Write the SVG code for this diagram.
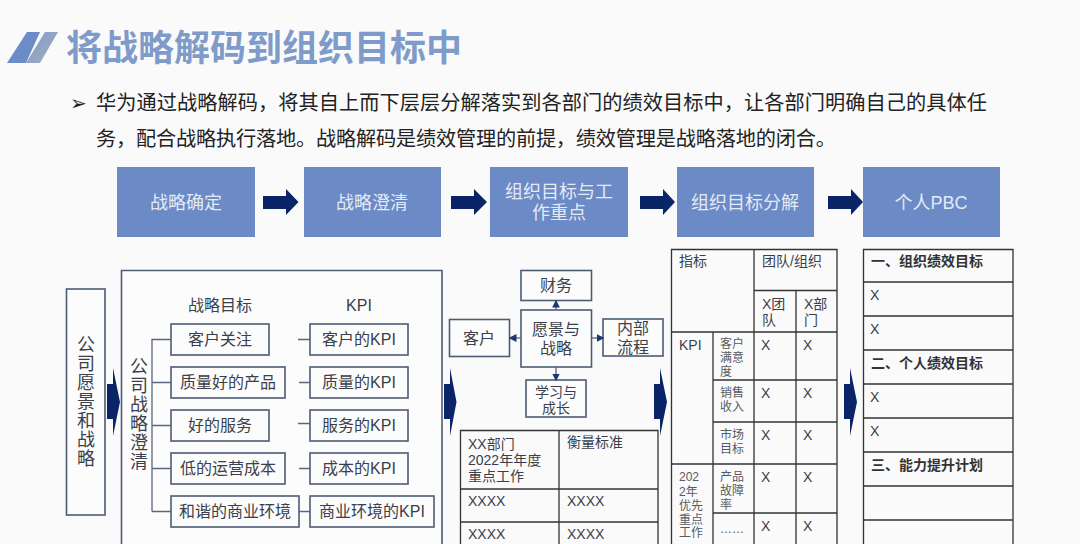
<svg xmlns="http://www.w3.org/2000/svg" width="1080" height="544" viewBox="0 0 1080 544">
<style>
text{font-family:"Liberation Sans","Noto Sans CJK SC",sans-serif;fill:#3a3f4a}
.m{text-anchor:middle}
.step rect{fill:#6b8ac6}
.step text{fill:#e4eaf5;font-size:18px;text-anchor:middle}
.b{fill:#fcfcfc;stroke:#4d5b75;stroke-width:1.6}
.t15{font-size:18px;text-anchor:middle}
.t14{font-size:16px;text-anchor:middle}
.c{font-size:14px}
.s{font-size:12px;fill:#555a64}
.g{stroke:#333;stroke-width:1.3;fill:none}
.h{font-size:14px;font-weight:bold;fill:#333}
.ln{stroke:#59667f;stroke-width:1.3;fill:none}
.ar{fill:#0a2468}
</style>
<defs>
<linearGradient id="sl" x1="0" y1="0" x2="1" y2="1"><stop offset="0" stop-color="#7f9ccf"/><stop offset="1" stop-color="#a5adb8"/></linearGradient>
<marker id="mk" viewBox="0 0 6 6" refX="5" refY="3" markerWidth="6" markerHeight="6" orient="auto"><path d="M0 0L6 3L0 6Z" fill="#1b3673"/></marker>
</defs>
<rect width="1080" height="544" fill="#fafafa"/>
<g id="title">
<polygon points="7,63 27,32 40,32 26,63" fill="#6c8cc8"/>
<polygon points="26,63 45,32 58,32 40,63" fill="url(#sl)"/>
<text x="66" y="61" font-size="36" font-weight="bold" style="fill:#7f9bc9">将战略解码到组织目标中</text>
</g>
<g id="intro">
<text x="70" y="110" font-size="20" style="font-family:'DejaVu Sans',sans-serif;fill:#222">➢</text>
<text x="96" y="110" font-size="20.2" textLength="891" style="fill:#222">华为通过战略解码，将其自上而下层层分解落实到各部门的绩效目标中，让各部门明确自己的具体任</text>
<text x="96" y="146" font-size="20.2" textLength="740" style="fill:#222">务，配合战略执行落地。战略解码是绩效管理的前提，绩效管理是战略落地的闭合。</text>
</g>
<g id="step1" class="step"><rect x="117" y="167" width="138" height="70"/><text x="186" y="209">战略确定</text></g>
<g id="step2" class="step"><rect x="304" y="167" width="137" height="70"/><text x="372" y="209">战略澄清</text></g>
<g id="step3" class="step"><rect x="490" y="167" width="138" height="70"/><text x="559" y="198">组织目标与工</text><text x="559" y="219">作重点</text></g>
<g id="step4" class="step"><rect x="677" y="167" width="137" height="70"/><text x="745" y="209">组织目标分解</text></g>
<g id="step5" class="step"><rect x="863" y="167" width="137" height="70"/><text x="931" y="209">个人PBC</text></g>
<g id="vision"><rect class="b" x="66.500" y="289" width="38.500" height="226"/>
<text class="t15" x="86" y="351">公</text><text class="t15" x="86" y="370">司</text><text class="t15" x="86" y="389">愿</text><text class="t15" x="86" y="408">景</text><text class="t15" x="86" y="427">和</text><text class="t15" x="86" y="446">战</text><text class="t15" x="86" y="465">略</text></g>
<g id="panel"><path class="b" d="M121.500 546V270.500H442V546"/>
<text class="t14" x="220" y="311">战略目标</text><text class="t14" x="359" y="311">KPI</text>
<text class="t15" x="139" y="373">公</text><text class="t15" x="139" y="392">司</text><text class="t15" x="139" y="411">战</text><text class="t15" x="139" y="430">略</text><text class="t15" x="139" y="449">澄</text><text class="t15" x="139" y="468">清</text></g>
<g id="g1"><rect class="b" x="171" y="324" width="98" height="31"/><text class="t14" x="220" y="345">客户关注</text></g>
<g id="g2"><rect class="b" x="171" y="367" width="114" height="31"/><text class="t14" x="228" y="388">质量好的产品</text></g>
<g id="g3"><rect class="b" x="171" y="410" width="98" height="31"/><text class="t14" x="220" y="431">好的服务</text></g>
<g id="g4"><rect class="b" x="171" y="453" width="114" height="31"/><text class="t14" x="228" y="474">低的运营成本</text></g>
<g id="g5"><rect class="b" x="171" y="496" width="128" height="31"/><text class="t14" x="235" y="517">和谐的商业环境</text></g>
<g id="k1"><rect class="b" x="310" y="324" width="98" height="31"/><text class="t14" x="359" y="345">客户的KPI</text></g>
<g id="k2"><rect class="b" x="310" y="367" width="98" height="31"/><text class="t14" x="359" y="388">质量的KPI</text></g>
<g id="k3"><rect class="b" x="310" y="410" width="98" height="31"/><text class="t14" x="359" y="431">服务的KPI</text></g>
<g id="k4"><rect class="b" x="310" y="453" width="98" height="31"/><text class="t14" x="359" y="474">成本的KPI</text></g>
<g id="k5"><rect class="b" x="310" y="496" width="124" height="31"/><text class="t14" x="372" y="517">商业环境的KPI</text></g>
<g id="bsc-finance"><rect class="b" x="521" y="270.500" width="70.500" height="30"/><text class="t14" x="556" y="291">财务</text></g>
<g id="bsc-core"><rect class="b" x="521" y="310" width="70.500" height="57"/><text class="t14" x="556" y="335">愿景与</text><text class="t14" x="556" y="354">战略</text></g>
<g id="bsc-customer"><rect class="b" x="449.500" y="319.500" width="60" height="37"/><text class="t14" x="479" y="344">客户</text></g>
<g id="bsc-process"><rect class="b" x="603" y="319" width="60" height="37"/><text class="t14" x="633" y="334">内部</text><text class="t14" x="633" y="353">流程</text></g>
<g id="bsc-learning"><rect class="b" x="526" y="380" width="60" height="37"/><text class="m" font-size="14" x="556" y="397">学习与</text><text class="m" font-size="14" x="556" y="413">成长</text></g>
<g id="connectors">
<path class="ln" d="M152 511.500V339.500H171M152 382.500H171M152 425.500H171M152 468.500H171M152 511.500H171"/>
<path class="ln" d="M298 339.500H310M299 382.500H310M298 423.500H310M299 468.500H310M299 511.500H310"/>
<path class="ln" marker-end="url(#mk)" d="M556 310V301"/>
<path class="ln" marker-end="url(#mk)" d="M521 338H510"/>
<path class="ln" marker-end="url(#mk)" d="M592 338H603"/>
<path class="ln" marker-end="url(#mk)" d="M556 367V380"/>
<polygon class="ar" points="263,196 286,196 286,189 298.500,202 286,215 286,209 263,209"/>
<polygon class="ar" points="451,196 474,196 474,189 487,202 474,215 474,209 451,209"/>
<polygon class="ar" points="640,196 663,196 663,189 675,202 663,215 663,209 640,209"/>
<polygon class="ar" points="828,196 851,196 851,189 863,202 851,215 851,209 828,209"/>
<polygon class="ar" points="107,384 113,384 113,368 120,402 113,436 113,419 107,419"/>
<polygon class="ar" points="444,384 450,384 450,368 456.500,402 450,436 450,419 444,419"/>
<polygon class="ar" points="654,384 660,384 660,368 667,402 660,436 660,419 654,419"/>
<polygon class="ar" points="844,384 850,384 850,368 857,402 850,436 850,419 844,419"/>
</g>
<g id="table-dept">
<path class="g" d="M460.500 546V430.500H658V546M559 430.500V546M460.500 489H658M460.500 522H658"/>
<text class="c" x="468" y="449">XX部门</text><text class="c" x="468" y="465">2022年年度</text><text class="c" x="468" y="481">重点工作</text>
<text class="c" x="567" y="447">衡量标准</text>
<text class="c" x="468" y="506">XXXX</text><text class="c" x="567" y="506">XXXX</text>
<text class="c" x="468" y="539">XXXX</text><text class="c" x="567" y="539">XXXX</text>
</g>
<g id="table-kpi">
<path class="g" d="M671.500 546V249.500H837V546M754 249.500V546M796 290.500V546M713 332V546M754 290.500H837M671.500 332H837M713 380H837M713 422H837M671.500 464H837M713 513H837"/>
<text class="c" x="679" y="266">指标</text><text class="c" x="762" y="266">团队/组织</text>
<text class="c" x="762" y="309">X团</text><text class="c" x="762" y="325">队</text><text class="c" x="804" y="309">X部</text><text class="c" x="804" y="325">门</text>
<text class="c" x="679" y="350">KPI</text>
<text class="s" x="720" y="348">客户</text><text class="s" x="720" y="362">满意</text><text class="s" x="720" y="376">度</text>
<text class="s" x="720" y="397">销售</text><text class="s" x="720" y="411">收入</text>
<text class="s" x="720" y="439">市场</text><text class="s" x="720" y="453">目标</text>
<text class="s" x="720" y="481">产品</text><text class="s" x="720" y="495">故障</text><text class="s" x="720" y="509">率</text>
<text class="s" x="720" y="533">……</text>
<text class="s" x="679" y="481">202</text><text class="s" x="679" y="496">2年</text><text class="s" x="679" y="510">优先</text><text class="s" x="679" y="524">重点</text><text class="s" x="679" y="537">工作</text>
<text class="c" x="761" y="350">X</text><text class="c" x="803" y="350">X</text>
<text class="c" x="761" y="398">X</text><text class="c" x="803" y="398">X</text>
<text class="c" x="761" y="440">X</text><text class="c" x="803" y="440">X</text>
<text class="c" x="761" y="482">X</text><text class="c" x="803" y="482">X</text>
<text class="c" x="761" y="531">X</text><text class="c" x="803" y="531">X</text>
</g>
<g id="table-pbc">
<path class="g" d="M863.500 546V249.500H1013V546M863.500 282H1013M863.500 316H1013M863.500 350H1013M863.500 384H1013M863.500 418H1013M863.500 452H1013M863.500 486H1013M863.500 520H1013"/>
<text class="h" x="871" y="266">一、组织绩效目标</text>
<text class="c" x="870" y="300">X</text><text class="c" x="870" y="334">X</text>
<text class="h" x="871" y="368">二、个人绩效目标</text>
<text class="c" x="870" y="402">X</text><text class="c" x="870" y="436">X</text>
<text class="h" x="871" y="470">三、能力提升计划</text>
</g>
</svg>
